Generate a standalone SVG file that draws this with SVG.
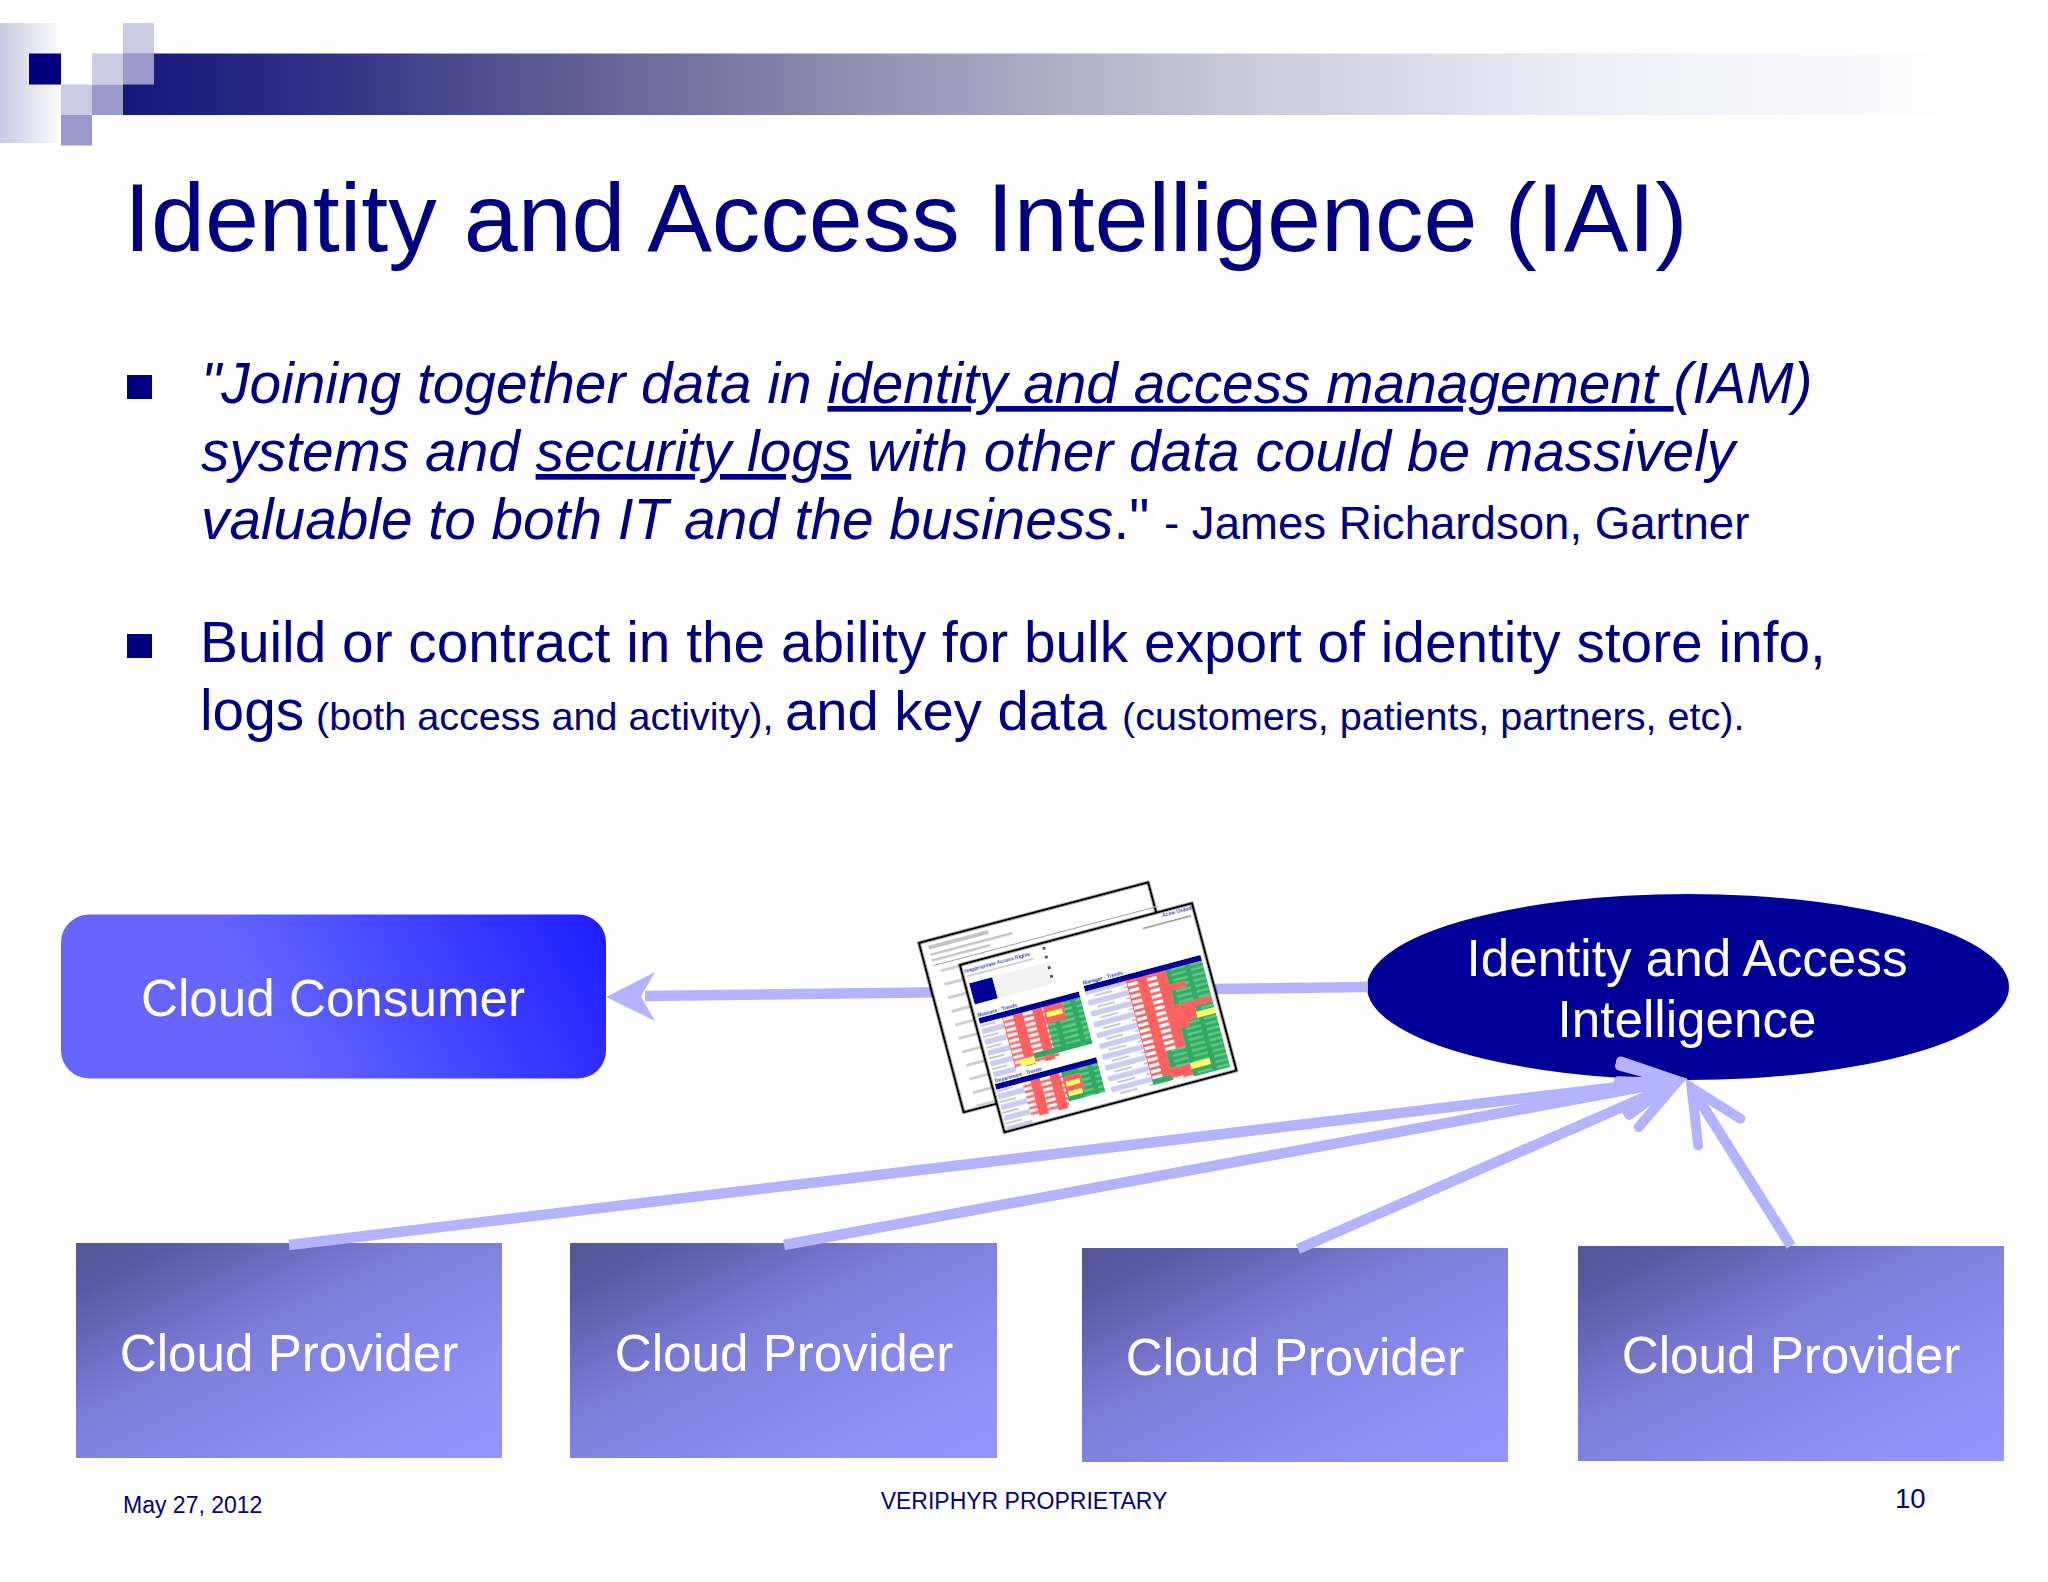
<svg xmlns="http://www.w3.org/2000/svg" width="2048" height="1582" viewBox="0 0 2048 1582">
<style>
text{font-family:"Liberation Sans",Arial,sans-serif}
.body{font-size:56.8px;fill:#000080}
.small{font-size:39.6px}
.foot{font-size:23px;fill:#000080}
.node{fill:#fff;font-size:51.2px;text-anchor:middle}
.conn{stroke:#b3b3ff;stroke-width:10.5;fill:none}
.hd{fill:#000099}.red{fill:#ff6060}.grn{fill:#33aa66}.yel{fill:#ffff66}
.tiny{font-size:5px;font-weight:bold;fill:#3333bb}
.gray{fill:#c4c4c4}
.page{fill:#fff;stroke:#000;stroke-width:2.6}
</style>
<defs>
<linearGradient id="bar" x1="0" x2="1" y1="0" y2="0"><stop offset="0" stop-color="#16167c"/><stop offset=".1" stop-color="#2e2e84"/><stop offset=".2" stop-color="#50508e"/><stop offset=".4" stop-color="#9090b0"/><stop offset=".6" stop-color="#c8c8da"/><stop offset=".8" stop-color="#eeeef8"/><stop offset="1" stop-color="#fefefe"/></linearGradient>
<linearGradient id="fade" x1="0" x2="1" y1="0" y2="0"><stop offset="0" stop-color="#c8c8e2"/><stop offset="1" stop-color="#fefefe"/></linearGradient>
<linearGradient id="cons" gradientUnits="userSpaceOnUse" x1="290" y1="1070" x2="590" y2="905"><stop offset="0" stop-color="#6666ff"/><stop offset="1" stop-color="#1f1fff"/></linearGradient>
<linearGradient id="prov" x1="0" y1="0" x2="1" y2="1"><stop offset="0" stop-color="#555599"/><stop offset=".12" stop-color="#5a5aa4"/><stop offset=".4" stop-color="#7c7cd8"/><stop offset=".7" stop-color="#8c8cf0"/><stop offset="1" stop-color="#9595ff"/></linearGradient>
<marker id="open" markerUnits="userSpaceOnUse" markerWidth="120" markerHeight="120" refX="80" refY="60" orient="auto" overflow="visible"><path d="M28,35 L80,60 L28,85" fill="none" stroke="#b3b3ff" stroke-width="10" stroke-linecap="round" stroke-linejoin="miter"/></marker>
<pattern id="rows" patternUnits="userSpaceOnUse" width="20" height="5.6"><rect x="8" y="1" width="10" height="3" fill="#fff"/></pattern>
<pattern id="rows3" patternUnits="userSpaceOnUse" width="20" height="6" patternTransform="translate(9,0)"><rect x="8" y="1" width="10" height="3.2" fill="#fff"/></pattern>
<pattern id="gl" patternUnits="userSpaceOnUse" width="20" height="5.6"><rect x="2" y="1.6" width="15" height="2" fill="#66cc88"/></pattern>
<pattern id="lab" patternUnits="userSpaceOnUse" width="30" height="11.2"><rect width="30" height="5.6" fill="#ccccee"/><rect x="2" y="7.5" width="18" height="1.6" fill="#bbb"/></pattern>
<pattern id="backtxt" patternUnits="userSpaceOnUse" width="60" height="14"><rect x="14" y="3" width="30" height="3" fill="#cfcfcf"/></pattern>
<filter id="soft" x="-5%" y="-5%" width="110%" height="110%"><feGaussianBlur stdDeviation="0.35"/></filter>
</defs>
<rect width="2048" height="1582" fill="#fefefe"/>

<g id="banner">
<rect x="123" y="53.5" width="1840" height="61.5" fill="url(#bar)"/>
<rect x="0" y="23" width="62" height="120" fill="url(#fade)"/>
<rect x="29" y="53.5" width="32" height="31" fill="#000080"/>
<rect x="92" y="53.5" width="31" height="31" fill="#cbcbe5"/>
<rect x="123" y="23" width="31" height="30.5" fill="#cbcbe5"/>
<rect x="123" y="53.5" width="31" height="31" fill="#9999cc"/>
<rect x="61" y="84.5" width="31" height="30.5" fill="#cbcbe5"/>
<rect x="92" y="84.5" width="31" height="30.5" fill="#9999cc"/>
<rect x="61" y="115" width="31" height="30.5" fill="#9999cc"/>
</g>

<text id="title" x="124" y="251" font-size="97" fill="#000080">Identity and Access Intelligence (IAI)</text>

<g id="bullets" fill="#000080"><rect x="127" y="375" width="25" height="24"/><rect x="127" y="634" width="25" height="24"/></g>

<g id="body" xml:space="preserve">
<text class="body" x="201" y="403" font-style="italic">"Joining together data in <tspan text-decoration="underline">identity and access management </tspan>(IAM)</text>
<text class="body" x="201" y="471" font-style="italic">systems and <tspan text-decoration="underline">security logs</tspan> with other data could be massively</text>
<text class="body" x="201" y="539"><tspan font-style="italic">valuable to both IT and the business</tspan>."<tspan x="1164" style="font-size:45.6px">- James Richardson, Gartner</tspan></text>
<text class="body" x="200" y="662">Build or contract in the ability for bulk export of identity store info,</text>
<text class="body" x="200" y="730">logs<tspan x="316" class="small">(both access and activity),</tspan><tspan x="785" style="font-size:56.2px">and key data</tspan><tspan x="1122" class="small">(customers, patients, partners, etc).</tspan></text>
</g>

<g id="node-consumer">
<rect x="61" y="914.5" width="545" height="164" rx="28" fill="url(#cons)"/>
<text class="node" x="333" y="1016">Cloud Consumer</text>
</g>

<g id="node-iai">
<ellipse cx="1688" cy="987" rx="321" ry="93" fill="#000099"/>
<text class="node" x="1687" y="976">Identity and Access</text>
<text class="node" x="1687" y="1037">Intelligence</text>
</g>

<g id="node-provider-1"><rect x="76" y="1243" width="426" height="215" fill="url(#prov)"/><text class="node" x="289" y="1371">Cloud Provider</text></g>
<g id="node-provider-2"><rect x="570" y="1243" width="427" height="215" fill="url(#prov)"/><text class="node" x="784" y="1371">Cloud Provider</text></g>
<g id="node-provider-3"><rect x="1082" y="1248" width="426" height="214" fill="url(#prov)"/><text class="node" x="1295" y="1375">Cloud Provider</text></g>
<g id="node-provider-4"><rect x="1578" y="1246" width="426" height="215" fill="url(#prov)"/><text class="node" x="1791" y="1373">Cloud Provider</text></g>

<g id="connectors">
<path class="conn" d="M1368,987 L645,996"/>
<path d="M606,997 L655,972 L641,996.5 L655,1021 Z" fill="#b3b3ff"/>
<path class="conn" d="M289,1245 L1675.5,1080.2" marker-end="url(#open)"/>
<path class="conn" d="M784,1245 L1675.6,1080.9" marker-end="url(#open)"/>
<path class="conn" d="M1298,1249 L1676.3,1083.2" marker-end="url(#open)"/>
<path class="conn" d="M1791,1246 L1691.6,1088" marker-end="url(#open)"/>
</g>

<g id="report-back" transform="translate(919,943) rotate(-14.8)" filter="url(#soft)">
<rect class="page" width="237" height="175"/>
<rect x="8" y="5" width="62" height="4" class="gray"/>
<rect x="8" y="13" width="85" height="2.5" class="gray"/>
<rect x="8" y="19" width="60" height="2.5" class="gray"/>
<rect x="8" y="25" width="232" height="1" fill="#999"/>
<rect x="4" y="28" width="36" height="147" fill="url(#backtxt)"/>
</g>

<g id="report-front" transform="translate(960,965) rotate(-14.9)" filter="url(#soft)">
<rect class="page" width="240" height="173"/>
<text class="tiny" x="3" y="9">Inappropriate Access Rights</text>
<rect x="3" y="12" width="70" height="1.5" class="gray"/>
<text class="tiny" x="208" y="6">Acme United</text>
<rect x="186" y="11" width="50" height="1.5" fill="#888"/>
<rect x="4" y="20" width="24" height="22" class="hd"/>
<rect x="28" y="20" width="60" height="22" fill="#f2f2f2"/>
<rect x="84" y="4" width="3" height="3" fill="#555"/><rect x="84" y="13" width="3" height="3" fill="#555"/><rect x="84" y="24" width="3" height="3" fill="#555"/><rect x="84" y="33" width="3" height="3" fill="#555"/>
<text class="tiny" x="4" y="55">Measure - Trends</text>
<rect x="4" y="56" width="104" height="6" class="hd"/>
<rect x="4" y="62" width="23" height="56" fill="url(#lab)"/>
<rect x="27" y="62" width="46" height="53" class="red"/>
<rect x="27" y="62" width="46" height="53" fill="url(#rows)"/>
<rect x="69" y="62" width="39" height="42" class="grn"/>
<rect x="69" y="62" width="20" height="17" class="red"/>
<rect x="71" y="68" width="16" height="5" class="yel"/>
<rect x="89" y="62" width="19" height="42" fill="url(#gl)"/>
<rect x="69" y="79" width="39" height="25" fill="url(#gl)"/>
<rect x="48" y="104" width="60" height="6" class="grn"/>
<rect x="33" y="107" width="15" height="7" class="yel"/>
<text class="tiny" x="4" y="123">Department - Trends</text>
<rect x="3" y="124" width="105" height="6" class="hd"/>
<rect x="3" y="130" width="27" height="41" fill="url(#lab)"/>
<rect x="30" y="130" width="40" height="36" class="red"/>
<rect x="30" y="130" width="40" height="36" fill="url(#rows)"/>
<rect x="70" y="130" width="38" height="30" class="grn"/>
<rect x="70" y="135" width="18" height="18" class="red"/>
<rect x="72" y="140" width="14" height="5" class="yel"/>
<rect x="72" y="150" width="14" height="5" class="yel"/>
<rect x="88" y="130" width="20" height="30" fill="url(#gl)"/>
<text class="tiny" x="114" y="51">Manager - Trends</text>
<rect x="114" y="52" width="121" height="6" class="hd"/>
<rect x="114" y="58" width="42" height="110" fill="url(#lab)"/>
<rect x="156" y="58" width="41" height="108" class="red"/>
<rect x="156" y="58" width="41" height="108" fill="url(#rows3)"/>
<rect x="197" y="58" width="38" height="110" class="grn"/>
<rect x="177" y="136" width="20" height="18" class="grn"/>
<rect x="197" y="58" width="38" height="110" fill="url(#gl)"/>
<rect x="177" y="136" width="20" height="18" fill="url(#gl)"/>
<rect x="197" y="73" width="16" height="6" class="red"/>
<rect x="197" y="94" width="38" height="6" class="red"/>
<rect x="197" y="100" width="19" height="12" class="red"/>
<rect x="216" y="106" width="19" height="6" class="yel"/>
<rect x="197" y="112" width="10" height="6" class="red"/>
<rect x="177" y="154" width="20" height="10" class="red"/>
<rect x="197" y="154" width="20" height="6" class="yel"/>
<rect x="156" y="160" width="20" height="6" class="grn"/>
</g>

<g id="footer">
<text class="foot" x="123" y="1513">May 27, 2012</text>
<text class="foot" x="1024" y="1509" text-anchor="middle">VERIPHYR PROPRIETARY</text>
<text x="1895" y="1508" fill="#000080" style="font-size:27.5px">10</text>
</g>
</svg>
